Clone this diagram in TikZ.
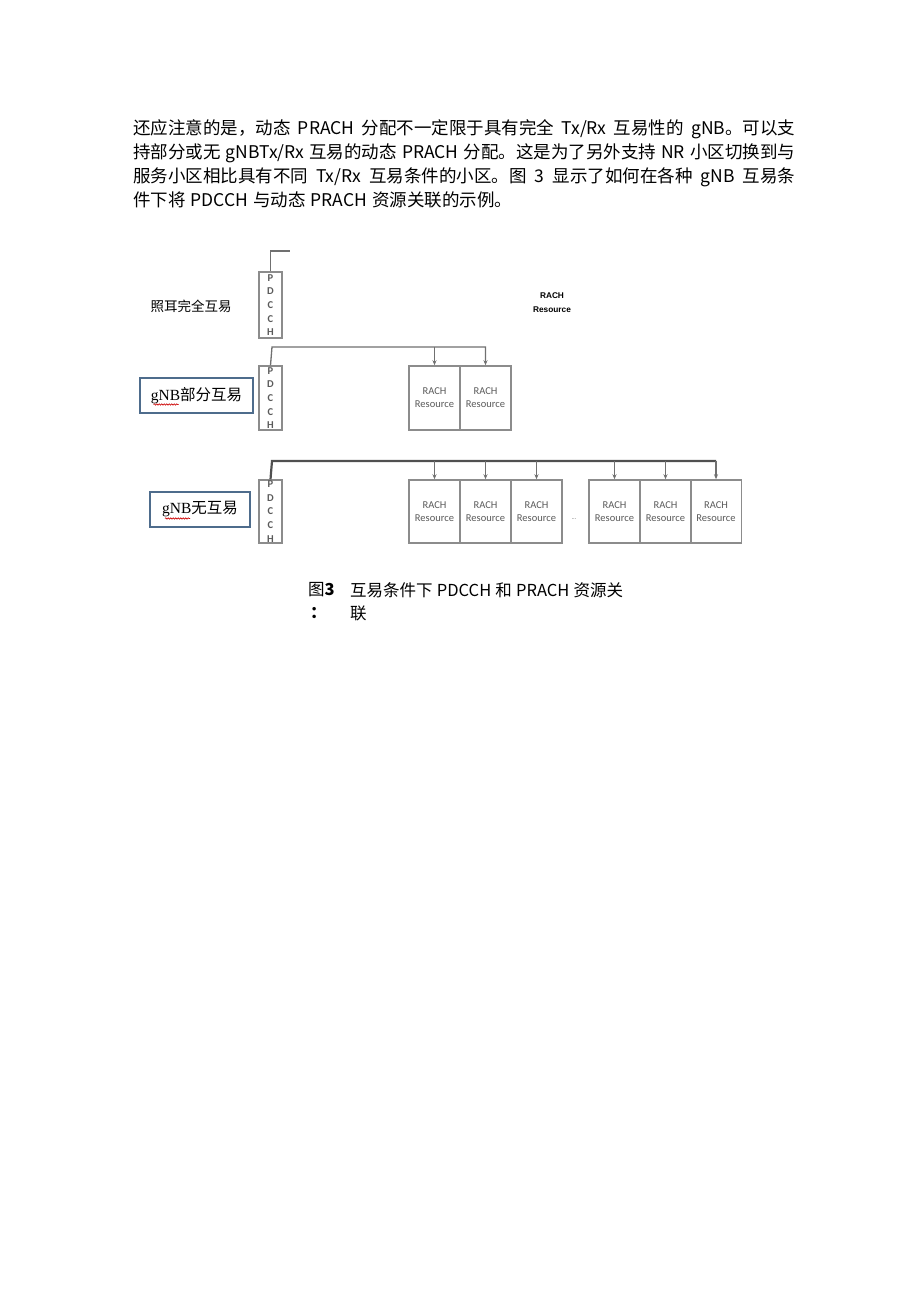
\documentclass[tikz,border=0pt]{standalone}
\usepackage{fontspec}
\setmainfont{Liberation Sans}
\newfontfamily\cjk{Noto Sans CJK SC}
\newfontfamily\cali{Carlito}
\newfontfamily\tnr{Liberation Serif}
\usetikzlibrary{arrows.meta,calc,decorations.pathmorphing}
\definecolor{boxgray}{RGB}{140,140,140}
\definecolor{linegray}{RGB}{112,112,112}
\definecolor{busgray}{RGB}{80,80,80}
\definecolor{txtgray}{RGB}{90,90,90}
\definecolor{frameblue}{RGB}{78,108,140}
\XeTeXlinebreaklocale "zh"
\XeTeXlinebreakskip=0pt plus 3pt minus 0.5pt
\newcommand\paraspace{\spaceskip=5pt plus 1pt minus 1pt\relax}
\newcommand\captspace{\spaceskip=4pt plus 1pt minus 1pt\relax}

\begin{document}
\begin{tikzpicture}[x=1pt,y=-1pt]

\tikzset{
  para/.style={anchor=west,inner sep=0pt,font=\cjk\fontsize{17.5}{24}\selectfont\paraspace},
  capt/.style={anchor=west,inner sep=0pt,font=\cjk\fontsize{16.5}{20}\selectfont\captspace},
  pdcch/.style={draw=boxgray,line width=1.5pt,minimum width=23pt,minimum height=64pt,inner sep=0pt,
    align=center,text=txtgray,font=\cali\bfseries\fontsize{10.5}{13.7}\selectfont},
  rach/.style={draw=boxgray,line width=1.5pt,minimum width=51pt,minimum height=64pt,inner sep=0pt,
    align=center,text=txtgray,font=\cali\fontsize{10.5}{13}\selectfont},
  cond/.style={draw=frameblue,line width=1.5pt,minimum height=35pt,inner sep=0pt,font=\fontsize{15.5}{18}\selectfont},
  link/.style={draw=linegray,line width=1.3pt},
  feed/.style={link,-{Stealth[length=5pt,width=4pt]}},
  bus/.style={draw=busgray,line width=2.2pt},
  spell/.style={draw=red!80!black,line width=0.6pt,decorate,decoration={snake,amplitude=0.7pt,segment length=2.5pt}}
}

\useasboundingbox[fill=white] (0,0) rectangle (920,1301);

% text above the figure
\node[para] (l1) at (133,129) {\makebox[662pt][s]{还应注意的是，动态 PRACH 分配不一定限于具有完全 Tx/Rx 互易性的 gNB。可以支}};
\node[para] (l2) at (133,153) {\makebox[662pt][s]{持部分或无 gNBTx/Rx 互易的动态 PRACH 分配。这是为了另外支持 NR 小区切换到与}};
\node[para] (l3) at (133,177) {\makebox[662pt][s]{服务小区相比具有不同 Tx/Rx 互易条件的小区。图 3 显示了如何在各种 gNB 互易条}};
\node[para] (l4) at (133,200) {件下将 PDCCH 与动态 PRACH 资源关联的示例。};

% full reciprocity
\node[font=\cjk\fontsize{13.5}{16}\selectfont] (g1) at (191,306) {照耳完全互易};
\node[pdcch,minimum height=66pt] (p1) at (270.5,305) {P\\D\\C\\C\\H};
\node[font=\bfseries\fontsize{8.3}{14}\selectfont,align=center] (r1) at (552,303) {RACH\\Resource};
\coordinate (c1) at (290,251);
\draw[link] (p1.north) |- (c1);

% partial reciprocity
\node[cond,minimum width=113pt] (g2) at (196.5,395.5) {{\tnr gNB}\cjk 部分互易};
\draw[spell] ($(g2.center)+(-43,9)$) -- ++(25,0);
\node[pdcch] (p2) at (270.5,398) {P\\D\\C\\C\\H};
\node[rach] (r21) at (434.5,398) {RACH\\Resource};
\node[rach] (r22) at (485.5,398) {RACH\\Resource};
\coordinate (b2) at (272,347);
\draw[feed] (p2.north) -- (b2) -| (r22.north);
\draw[feed] (b2 -| r21.north) -- (r21.north);

% no reciprocity
\node[cond,minimum width=100pt] (g3) at (200,509.5) {{\tnr gNB}\cjk 无互易};
\draw[spell] ($(g3.center)+(-35,9)$) -- ++(25,0);
\node[pdcch,minimum height=63pt] (p3) at (270.5,511.5) {P\\D\\C\\C\\H};
\node[rach,minimum height=63pt] (r31) at (434.5,511.5) {RACH\\Resource};
\node[rach,minimum height=63pt] (r32) at (485.5,511.5) {RACH\\Resource};
\node[rach,minimum height=63pt] (r33) at (536.5,511.5) {RACH\\Resource};
\node[text=txtgray,font=\fontsize{6}{6}\selectfont] (dots) at (574,519) {...};
\node[rach,minimum height=63pt] (r34) at (614.5,511.5) {RACH\\Resource};
\node[rach,minimum height=63pt] (r35) at (665.5,511.5) {RACH\\Resource};
\node[rach,minimum height=63pt] (r36) at (716,511.5) {RACH\\Resource};
\coordinate (b3) at (272,461);
\draw[bus] (p3.north) -- (b3) -- (b3 -| r36.north);
\foreach \r in {r31,r32,r33,r34,r35,r36}
  \draw[feed] (b3 -| \r.north) -- (\r.north);

% caption
\node[capt] (f1) at (308,590) {图\textbf{3}};
\node[capt] (f2) at (350,590) {\makebox[273pt][s]{互易条件下 PDCCH 和 PRACH 资源关}};
\node[capt] (f3) at (310,613) {\textbf{：}};
\node[capt] (f4) at (350,613) {联};

\end{tikzpicture}
\end{document}
